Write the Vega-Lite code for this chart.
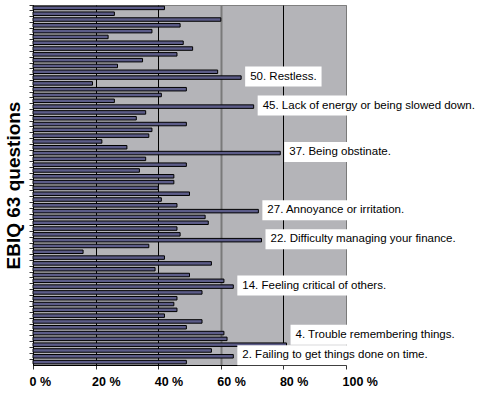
{
  "$schema": "https://vega.github.io/schema/vega-lite/v6.json",
  "width": 313,
  "height": 360,
  "autosize": "none",
  "padding": {"left": 33, "top": 5, "right": 136, "bottom": 33},
  "background": "white",
  "config": {
    "view": {"fill": "#b4b4b8", "stroke": "#808080", "strokeWidth": 1},
    "font": "Liberation Sans"
  },
  "data": {
    "values": [
      {"q": 62, "value": 42}, {"q": 61, "value": 26}, {"q": 60, "value": 60}, {"q": 59, "value": 47},
      {"q": 58, "value": 38}, {"q": 57, "value": 24}, {"q": 56, "value": 48}, {"q": 55, "value": 51},
      {"q": 54, "value": 46}, {"q": 53, "value": 35}, {"q": 52, "value": 27}, {"q": 51, "value": 59},
      {"q": 50, "value": 66.5, "label": "50. Restless."}, {"q": 49, "value": 19}, {"q": 48, "value": 49},
      {"q": 47, "value": 41}, {"q": 46, "value": 26},
      {"q": 45, "value": 70.5, "label": "45. Lack of energy or being slowed down."},
      {"q": 44, "value": 36}, {"q": 43, "value": 33}, {"q": 42, "value": 49}, {"q": 41, "value": 38},
      {"q": 40, "value": 37}, {"q": 39, "value": 22}, {"q": 38, "value": 30},
      {"q": 37, "value": 79, "label": "37. Being obstinate."},
      {"q": 36, "value": 36}, {"q": 35, "value": 49}, {"q": 34, "value": 34}, {"q": 33, "value": 45},
      {"q": 32, "value": 45}, {"q": 31, "value": 40}, {"q": 30, "value": 50}, {"q": 29, "value": 41},
      {"q": 28, "value": 46},
      {"q": 27, "value": 72, "label": "27. Annoyance or irritation."},
      {"q": 26, "value": 55}, {"q": 25, "value": 56}, {"q": 24, "value": 46}, {"q": 23, "value": 47},
      {"q": 22, "value": 73, "label": "22. Difficulty managing your finance."},
      {"q": 21, "value": 37}, {"q": 20, "value": 16}, {"q": 19, "value": 42}, {"q": 18, "value": 57},
      {"q": 17, "value": 39}, {"q": 16, "value": 50}, {"q": 15, "value": 61},
      {"q": 14, "value": 64, "label": "14. Feeling critical of others."},
      {"q": 13, "value": 54}, {"q": 12, "value": 46}, {"q": 11, "value": 45}, {"q": 10, "value": 46},
      {"q": 9, "value": 42}, {"q": 8, "value": 54}, {"q": 7, "value": 49}, {"q": 6, "value": 61},
      {"q": 5, "value": 62},
      {"q": 4, "value": 81, "label": "4. Trouble remembering things."},
      {"q": 3, "value": 57},
      {"q": 2, "value": 64, "label": "2. Failing to get things done on time."},
      {"q": 1, "value": 49}
    ]
  },
  "encoding": {
    "y": {
      "field": "q", "type": "ordinal", "sort": "descending",
      "scale": {"paddingInner": 0, "paddingOuter": 0},
      "axis": {
        "labels": false, "bandPosition": 0, "tickSize": 4, "tickColor": "#333",
        "domainColor": "black", "title": "EBIQ 63 questions", "titleFontSize": 19,
        "titleFontWeight": "bold", "titleFont": "Liberation Sans", "titleColor": "black", "titlePadding": 5
      }
    },
    "x": {
      "field": "value", "type": "quantitative",
      "scale": {"domain": [0, 100]},
      "axis": {
        "values": [0, 20, 40, 60, 80, 100], "title": null,
        "labelExpr": "datum.value + ' %'", "labelFontSize": 12.5, "labelFontWeight": "bold",
        "labelColor": "black", "labelAlign": "left", "labelOffset": -4, "labelPadding": 6,
        "tickSize": 4, "tickColor": "#333", "domainColor": "black",
        "grid": true,
        "gridColor": {"condition": {"test": "datum.value === 60 || datum.value === 100", "value": "#7a7a7a"}, "value": "black"},
        "gridWidth": {"condition": {"test": "datum.value === 60", "value": 2}, "value": 1},
        "gridOpacity": 1
      }
    }
  },
  "layer": [
    {
      "mark": {"type": "bar", "height": 3.5, "fill": "#5c5c88", "stroke": "black", "strokeWidth": 1}
    },
    {
      "transform": [
        {"filter": "isValid(datum.label) && datum.q !== 4"},
        {"calculate": "datum.value + (length(datum.label) * 5.1 + 10) / 3.125", "as": "boxEnd"}
      ],
      "mark": {"type": "bar", "height": 20, "fill": "white", "xOffset": 4, "x2Offset": 4, "yOffset": -1},
      "encoding": {"x2": {"field": "boxEnd"}}
    },
    {
      "transform": [{"filter": "isValid(datum.label) && datum.q !== 4"}],
      "mark": {"type": "text", "align": "left", "baseline": "middle", "dx": 9, "dy": -1, "fontSize": 11.5, "font": "Liberation Sans", "color": "black"},
      "encoding": {"text": {"field": "label"}}
    },
    {
      "transform": [
        {"filter": "datum.q === 4"},
        {"calculate": "datum.value + (length(datum.label) * 5.1 + 10) / 3.125", "as": "boxEnd"}
      ],
      "mark": {"type": "bar", "height": 20, "fill": "white", "xOffset": 4, "x2Offset": 4, "yOffset": -10},
      "encoding": {"x2": {"field": "boxEnd"}}
    },
    {
      "transform": [{"filter": "datum.q === 4"}],
      "mark": {"type": "text", "align": "left", "baseline": "middle", "dx": 9, "dy": -10, "fontSize": 11.5, "font": "Liberation Sans", "color": "black"},
      "encoding": {"text": {"field": "label"}}
    }
  ]
}
